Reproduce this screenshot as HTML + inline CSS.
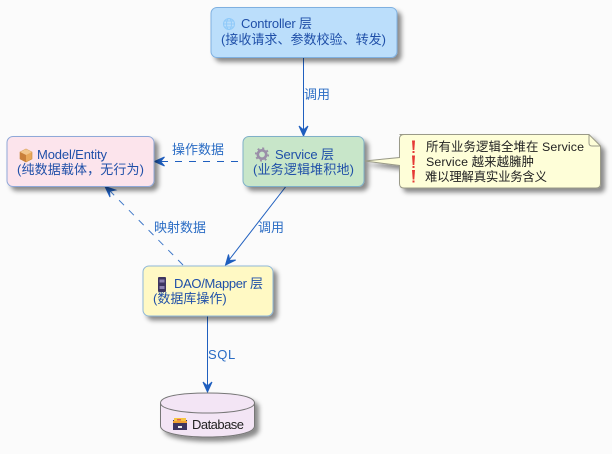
<!DOCTYPE html>
<html>
<head>
<meta charset="utf-8">
<style>
html,body{margin:0;padding:0;background:#fbfbfb;width:612px;height:454px;overflow:hidden}
svg{display:block}
text{font-family:"Liberation Sans","Noto Sans CJK SC",sans-serif;font-size:13px}
.n{fill:#1f4fa8}
.l{fill:#2a6cc4}
.k{fill:#222}
.t{font-size:12.4px}
</style>
</head>
<body>
<svg width="612" height="454" viewBox="0 0 612 454" xmlns="http://www.w3.org/2000/svg">
<defs>
<filter id="s" x="-20%" y="-20%" width="150%" height="160%">
<feDropShadow dx="4" dy="4" stdDeviation="2.5" flood-color="#000" flood-opacity=".45"/>
</filter>
</defs>
<rect width="612" height="454" fill="#fbfbfb"/>

<!-- Connectors -->
<g stroke="#1f5fbf" fill="none" stroke-width="1">
<path d="M303.5 57V130"/>
<path d="M207.5 316V386"/>
<path d="M285.5 187L229 260"/>
<path d="M238 161.5H160" stroke-dasharray="7 7"/>
<path d="M183 265L110 191" stroke-dasharray="7 7" stroke="#3f78c8"/>
</g>
<g fill="#1f5fbf" stroke="#1f5fbf" stroke-width="1">
<path d="M303.5 136L299 126L303.5 130L308 126Z"/>
<path d="M207.5 392L203 382L207.5 386L212 382Z"/>
<path d="M225.5 265L228.5 254.5L229.8 260.5L235.7 260Z"/>
<path d="M154.5 161.5L164.5 157L160.5 161.5L164.5 166Z"/>
<path d="M105 186.500L115.500 190L109.500 191.200L110 197Z"/>
</g>

<!-- Controller -->
<rect x="211" y="7.500" width="186" height="50" rx="6" fill="#bbdefb" stroke="#7fb0e0" filter="url(#s)"/>
<g stroke="#90caf9" fill="#bbdefb" stroke-width="1">
<circle cx="229" cy="24" r="5.500"/>
<ellipse cx="229" cy="24" rx="2.500" ry="5.500"/>
<path d="M223.500 24H234.500M224.500 21H233.500M224.500 27H233.500"/>
</g>
<text class="n" x="241" y="28" textLength="71">Controller 层</text>
<text class="n" x="221" y="44" textLength="165">(接收请求、参数校验、转发)</text>
<text class="l" x="304" y="99">调用</text>

<!-- Model -->
<rect x="7" y="136.500" width="147" height="50" rx="6" fill="#fce4ec" stroke="#8fa8d8" filter="url(#s)"/>
<path d="M20 152L26 149L32 152V159L26 162L20 159Z" fill="#e8a85a" stroke="#c98a3c" stroke-width=".6"/>
<path d="M20 152L26 155L32 152L26 149Z" fill="#f2c68c"/>
<path d="M26 155V162L20 159V152Z" fill="#c9803a"/>
<text class="n" x="37" y="159" textLength="70">Model/Entity</text>
<text class="n" x="17" y="174" textLength="127">(纯数据载体，无行为)</text>
<text class="l" x="172" y="154">操作数据</text>
<text class="l" x="154" y="232">映射数据</text>

<!-- Service -->
<rect x="243" y="136.500" width="121" height="50" rx="6" fill="#c8e6c9" stroke="#7fb0c8" filter="url(#s)"/>
<circle cx="262" cy="154.500" r="4.200" fill="none" stroke="#9a8fa8" stroke-width="2.600"/>
<circle cx="262" cy="154.500" r="6.200" fill="none" stroke="#9a8fa8" stroke-width="1.800" stroke-dasharray="2 2.870"/>
<text class="n" x="275" y="159" textLength="59">Service 层</text>
<text class="n" x="253" y="174" textLength="101">(业务逻辑堆积地)</text>
<text class="l" x="258" y="232">调用</text>

<!-- Note -->
<path d="M399.500 134.500H589L600.500 146V183.500Q600.500 188 596 188H404Q399.500 188 399.500 183.500V165.500L364.500 161L399.500 157.500V139Q399.500 134.500 404 134.500Z" fill="#fefed8" stroke="#9a9a88" filter="url(#s)"/>
<path d="M589 134.500V143Q589 146 592 146H600.500" fill="none" stroke="#9a9a88"/>
<g fill="#e53935">
<path d="M412 140.500H415L414.300 150H412.700Z"/><rect x="412.500" y="151" width="2" height="2"/>
<path d="M412 155.500H415L414.300 165H412.700Z"/><rect x="412.500" y="166" width="2" height="2"/>
<path d="M412 170H415L414.300 179.500H412.700Z"/><rect x="412.500" y="180.500" width="2" height="2"/>
</g>
<text class="k t" x="426" y="151" textLength="158">所有业务逻辑全堆在 Service</text>
<text class="k t" x="426" y="166" textLength="108">Service 越来越臃肿</text>
<text class="k t" x="425" y="181" textLength="122">难以理解真实业务含义</text>

<!-- DAO -->
<rect x="143" y="266" width="130" height="50" rx="6" fill="#fff9c4" stroke="#8fb8d8" filter="url(#s)"/>
<rect x="158" y="277" width="8" height="15" rx="1" fill="#3d3560"/>
<rect x="159.500" y="279.500" width="5" height="3" fill="#8a80b0"/>
<rect x="159.500" y="286" width="5" height="3" fill="#8a80b0"/>
<text class="n" x="174" y="288" textLength="89">DAO/Mapper 层</text>
<text class="n" x="153" y="303">(数据库操作)</text>
<text class="l" x="208" y="359" style="letter-spacing:.6px">SQL</text>

<!-- Database -->
<path d="M160.500 403C160.500 396 181 393 207.500 393C234 393 254.500 396 254.500 403V426C254.500 433 234 437 207.500 437C181 437 160.500 433 160.500 426Z" fill="#f3e5f5" stroke="#777" filter="url(#s)"/>
<path d="M160.500 403C160.500 409 181 413 207.500 413C234 413 254.500 409 254.500 403" fill="none" stroke="#777"/>
<rect x="173" y="420" width="14" height="10" fill="#3d3560"/>
<rect x="174" y="418" width="12" height="3" fill="#f5c542"/>
<rect x="177" y="419" width="4" height="1.500" fill="#e06050"/>
<rect x="173" y="421" width="14" height="2" fill="#f0a030"/>
<rect x="178" y="426" width="4" height="2" fill="#eee"/>
<text class="k" x="192" y="429" textLength="52">Database</text>
</svg>
</body>
</html>
